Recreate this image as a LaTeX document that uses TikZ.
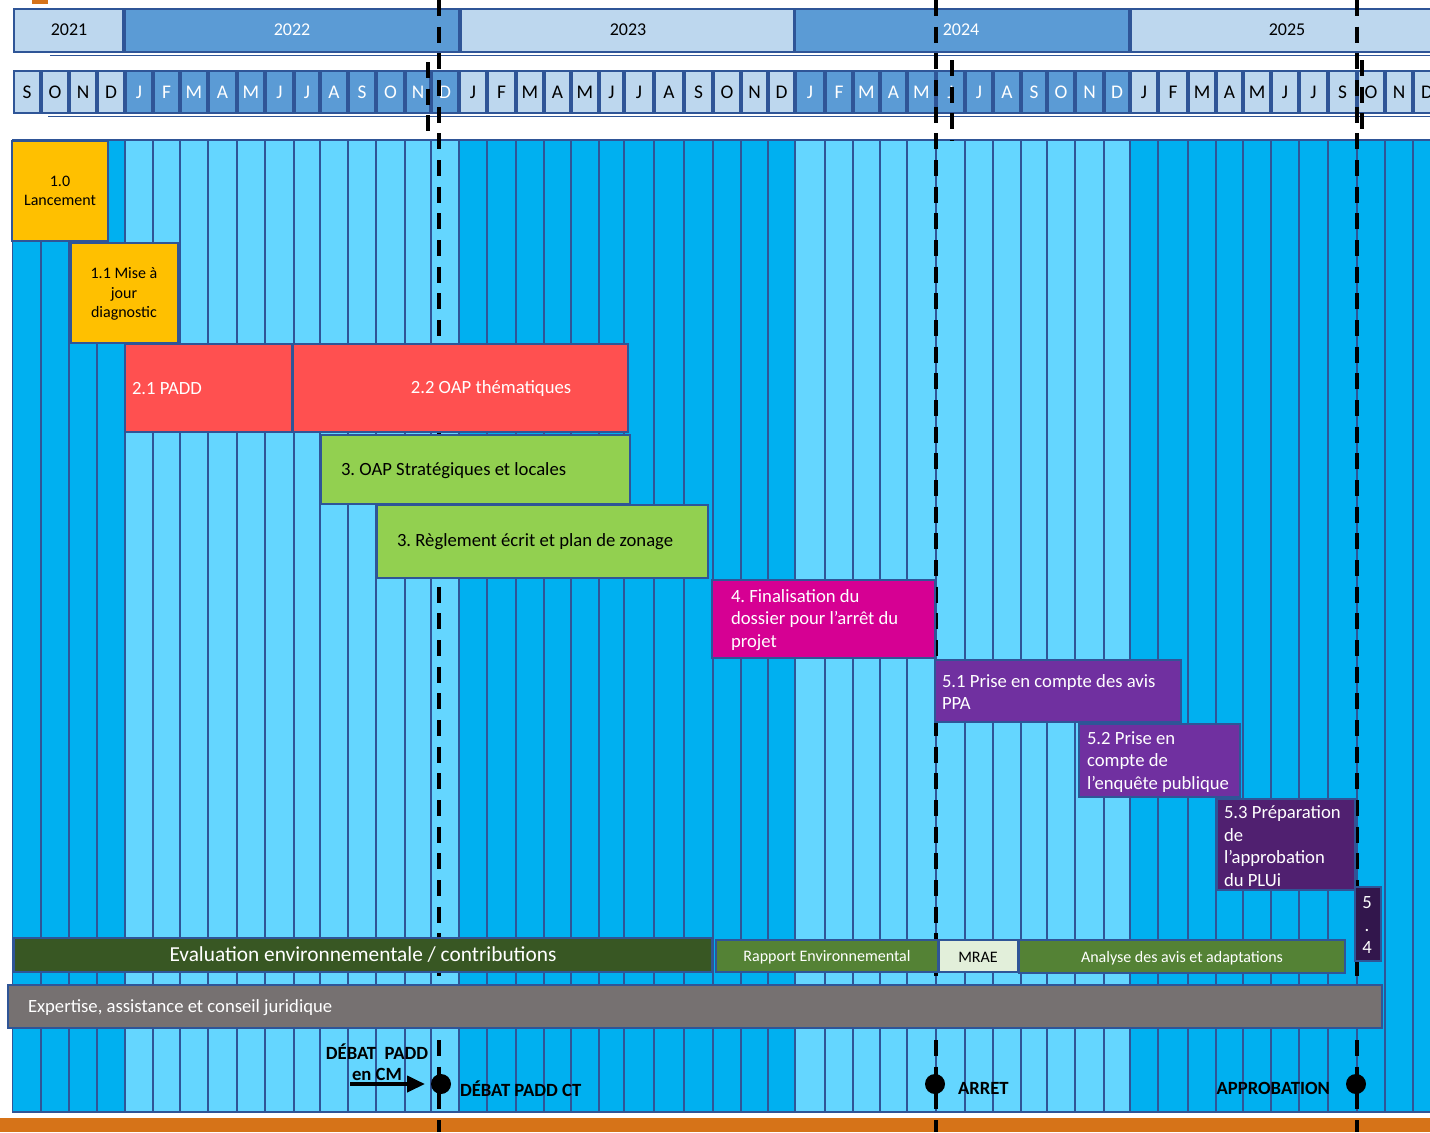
\documentclass[tikz,border=0pt]{standalone}
\usepackage{fontspec}
\setmainfont{Carlito}
\usepackage{tikz}
\usetikzlibrary{arrows.meta}
\definecolor{mblue}{RGB}{0,176,240}
\definecolor{mlblue}{RGB}{100,214,255}
\definecolor{mframe}{RGB}{47,85,151}
\definecolor{mhead}{RGB}{91,155,213}
\definecolor{mheadl}{RGB}{189,215,238}
\definecolor{morange}{RGB}{255,192,0}
\definecolor{mred}{RGB}{255,80,80}
\definecolor{mlime}{RGB}{146,208,80}
\definecolor{mpink}{RGB}{214,0,147}
\definecolor{mviolet}{RGB}{112,48,160}
\definecolor{mviolettwo}{RGB}{80,32,112}
\definecolor{mvioletthree}{RGB}{50,22,76}
\definecolor{mforest}{RGB}{56,87,35}
\definecolor{mmoss}{RGB}{84,130,53}
\definecolor{mmint}{RGB}{226,239,218}
\definecolor{mgrey}{RGB}{118,113,113}
\definecolor{mrust}{RGB}{214,115,24}

\begin{document}
\frenchspacing
\begin{tikzpicture}[y=0.75pt, x=0.75pt, yscale=-1.000000, xscale=1.000000, inner sep=0pt, outer sep=0pt,
  hcell/.style={fill=#1, draw=mframe, line width=1.5pt},
  task/.style={fill=#1, draw=mframe, line width=1.5pt},
  datum/.style={line width=3pt, dash pattern=on 12pt off 8pt},
  yeartext/.style={font=\fontsize{13.5}{16}\selectfont},
  monthtext/.style={font=\fontsize{14.5}{17}\selectfont},
  tasktext/.style={text=white, align=left, font=\fontsize{14}{17}\selectfont},
  smalltext/.style={align=center, font=\fontsize{12}{14.5}\selectfont},
  mstone/.style={font=\bfseries\fontsize{14}{17}\selectfont},
  dot/.style={circle, fill=black, minimum size=15pt}]

\useasboundingbox (0,0) rectangle (1430,1132);
\clip (0,0) rectangle (1430,1132);

% orange marks
\fill[mrust] (0,1118) rectangle (1430,1132);
\fill[mrust] (32,0) rectangle (48,4);

% year row
\draw[mframe, line width=1.2pt] (50,55.5) -- (1441,55.5);
\draw[hcell=mheadl] (14,9) rectangle (123,52);
\draw[hcell=mhead] (125,9) rectangle (459,52);
\draw[hcell=mheadl] (461,9) rectangle (794,52);
\draw[hcell=mhead] (795,9) rectangle (1129,52);
\draw[hcell=mheadl] (1131,9) rectangle (1445,52);
\node[yeartext] (y2021) at (69,30) {2021};
\node[yeartext, text=white] (y2022) at (292,30) {2022};
\node[yeartext] (y2023) at (628,30) {2023};
\node[yeartext, text=white] (y2024) at (961,30) {2024};
\node[yeartext] (y2025) at (1287,30) {2025};

% month row
\draw[mframe, line width=1.2pt] (48,116.5) -- (1441,116.5);
\foreach \xa/\xb/\m in {13/41/S, 41/69/O, 69/97/N, 97/125/D}
  \draw[hcell=mheadl] (\xa+1,71) rectangle (\xb-1,113) node[monthtext, midway] (m\xa) {\m};
\foreach \xa/\xb/\m in {125/153/J, 153/180/F, 180/208/M, 208/237/A, 237/265/M, 265/294/J,
    294/320/J, 320/348/A, 348/376/S, 376/405/O, 405/431/N, 431/459/D}
  \draw[hcell=mhead] (\xa+1,71) rectangle (\xb-1,113) node[monthtext, text=white, midway] (m\xa) {\m};
\foreach \xa/\xb/\m in {459/487/J, 487/516/F, 516/544/M, 544/571/A, 571/599/M, 599/624/J,
    624/654/J, 654/684/A, 684/713/S, 713/741/O, 741/768/N, 768/795/D}
  \draw[hcell=mheadl] (\xa+1,71) rectangle (\xb-1,113) node[monthtext, midway] (m\xa) {\m};
\foreach \xa/\xb/\m in {795/825/J, 825/853/F, 853/880/M, 880/907/A, 907/936/M, 936/965/J,
    965/993/J, 993/1021/A, 1021/1047/S, 1047/1075/O, 1075/1104/N, 1104/1130/D}
  \draw[hcell=mhead] (\xa+1,71) rectangle (\xb-1,113) node[monthtext, text=white, midway] (m\xa) {\m};
\foreach \xa/\xb/\m in {1130/1158/J, 1158/1188/F, 1188/1216/M, 1216/1243/A, 1243/1271/M, 1271/1299/J,
    1299/1328/J, 1328/1357/S, 1357/1385/O, 1385/1413/N, 1413/1441/D}
  \draw[hcell=mheadl] (\xa+1,71) rectangle (\xb-1,113) node[monthtext, midway] (m\xa) {\m};

% month columns
\fill[mframe] (12,139) rectangle (1441,1113);
\foreach \xa/\xb/\c in {12/41/mblue, 41/69/mblue, 69/97/mblue, 97/125/mblue,
    125/153/mlblue, 153/180/mlblue, 180/208/mlblue, 208/237/mlblue, 237/265/mlblue, 265/294/mlblue,
    294/320/mlblue, 320/348/mlblue, 348/376/mlblue, 376/405/mlblue, 405/431/mlblue, 431/459/mlblue,
    459/487/mblue, 487/516/mblue, 516/544/mblue, 544/571/mblue, 571/599/mblue, 599/624/mblue,
    624/654/mblue, 654/684/mblue, 684/713/mblue, 713/741/mblue, 741/768/mblue, 768/795/mblue,
    795/825/mlblue, 825/853/mlblue, 853/880/mlblue, 880/907/mlblue, 907/936/mlblue, 936/965/mlblue,
    965/993/mlblue, 993/1021/mlblue, 1021/1047/mlblue, 1047/1075/mlblue, 1075/1104/mlblue, 1104/1130/mlblue,
    1130/1158/mblue, 1158/1188/mblue, 1188/1216/mblue, 1216/1243/mblue, 1243/1271/mblue, 1271/1299/mblue,
    1299/1328/mblue, 1328/1357/mblue, 1357/1385/mblue, 1385/1413/mblue, 1413/1441/mblue}
  \fill[\c] (\xa+1.3,141) rectangle (\xb-1.3,1111);

% key dates
\draw[datum] (439,0) -- (439,1132);
\draw[datum] (936,0) -- (936,1132);
\draw[datum] (1357,0) -- (1357,1132);
\draw[datum] (428,62) -- (428,132);
\draw[datum] (952,60) -- (952,141);
\draw[datum] (1362,60) -- (1362,132);

% tasks
\draw[task=morange] (12,141) rectangle (108,241);
\draw[task=morange] (71,243) rectangle (178,343);
\draw[task=mred] (125,344) rectangle (292,432);
\draw[task=mred] (293,344) rectangle (628,432);
\draw[task=mlime] (321,435) rectangle (630,504);
\draw[task=mlime] (377,505) rectangle (708,578);
\draw[task=mpink] (712,580) rectangle (935,658);
\draw[task=mviolet] (935,660) rectangle (1181,722);
\draw[task=mviolet] (1079,724) rectangle (1240,797);
\draw[task=mviolettwo] (1217,799) rectangle (1355,890);
\draw[task=mvioletthree] (1355,887) rectangle (1381,961);
\draw[task=mforest] (14,938) rectangle (712,972);
\draw[task=mmoss] (716,940) rectangle (938,972);
\draw[task=mmint] (939,940) rectangle (1018,972);
\draw[task=mmoss] (1019,940) rectangle (1345,973);
\draw[task=mgrey] (8,985) rectangle (1382,1028);

\node[smalltext] (lancement) at (60,191) {1.0\\Lancement};
\node[smalltext] (diagnostic) at (124,294) {1.1 Mise à\\jour\\diagnostic};
\node[tasktext, anchor=west] (padd) at (132,389) {2.1 PADD};
\node[tasktext] (oapthem) at (491,389) {2.2 OAP thématiques};
\node[tasktext, text=black, anchor=west] (oapstrat) at (341,471) {3. OAP Stratégiques et locales};
\node[tasktext, text=black, anchor=west] (reglement) at (397,542) {3. Règlement écrit et plan de zonage};
\node[tasktext, anchor=west] (finalisation) at (731,620) {4. Finalisation du\\dossier pour l’arrêt du\\projet};
\node[tasktext, anchor=west] (avisppa) at (942,692) {5.1 Prise en compte des avis\\PPA};
\node[tasktext, anchor=west] (enquete) at (1087,762) {5.2 Prise en\\compte de\\l’enquête publique};
\node[tasktext, anchor=west] (approb) at (1224,846) {5.3 Préparation\\de\\l’approbation\\du PLUi};
\node[tasktext, align=center] (cinqquatre) at (1367,925) {5\\.\\4};
\node[text=white, font=\fontsize{16}{19}\selectfont] (evaluation) at (363,955) {Evaluation environnementale / contributions};
\node[smalltext, text=white] (rapport) at (827,957) {Rapport Environnemental};
\node[smalltext] (mrae) at (978,957) {MRAE};
\node[smalltext, text=white] (analyse) at (1182,958) {Analyse des avis et adaptations};
\node[tasktext, anchor=west] (expertise) at (28,1008) {Expertise, assistance et conseil juridique};

% milestones
\node[dot] (ptpadd) at (441,1084) {};
\node[dot] (ptarret) at (935,1084) {};
\node[dot] (ptappro) at (1356,1084) {};
\node[mstone, anchor=west] (lbpadd) at (460,1089) {DÉBAT PADD CT};
\node[mstone, anchor=west] (lbarret) at (958,1088) {ARRET};
\node[mstone, anchor=east] (lbappro) at (1330,1088) {APPROBATION};
\node[mstone] (lbcm) at (377,1052) {DÉBAT\ \ PADD};
\node[mstone] (lbcmtwo) at (377,1074) {en CM};
\coordinate (cmfrom) at (350,1084);
\draw[line width=3pt, -{Triangle[length=13.5pt, width=12pt]}, shorten >=4.5pt] (cmfrom) -- (ptpadd);

\end{tikzpicture}
\end{document}
